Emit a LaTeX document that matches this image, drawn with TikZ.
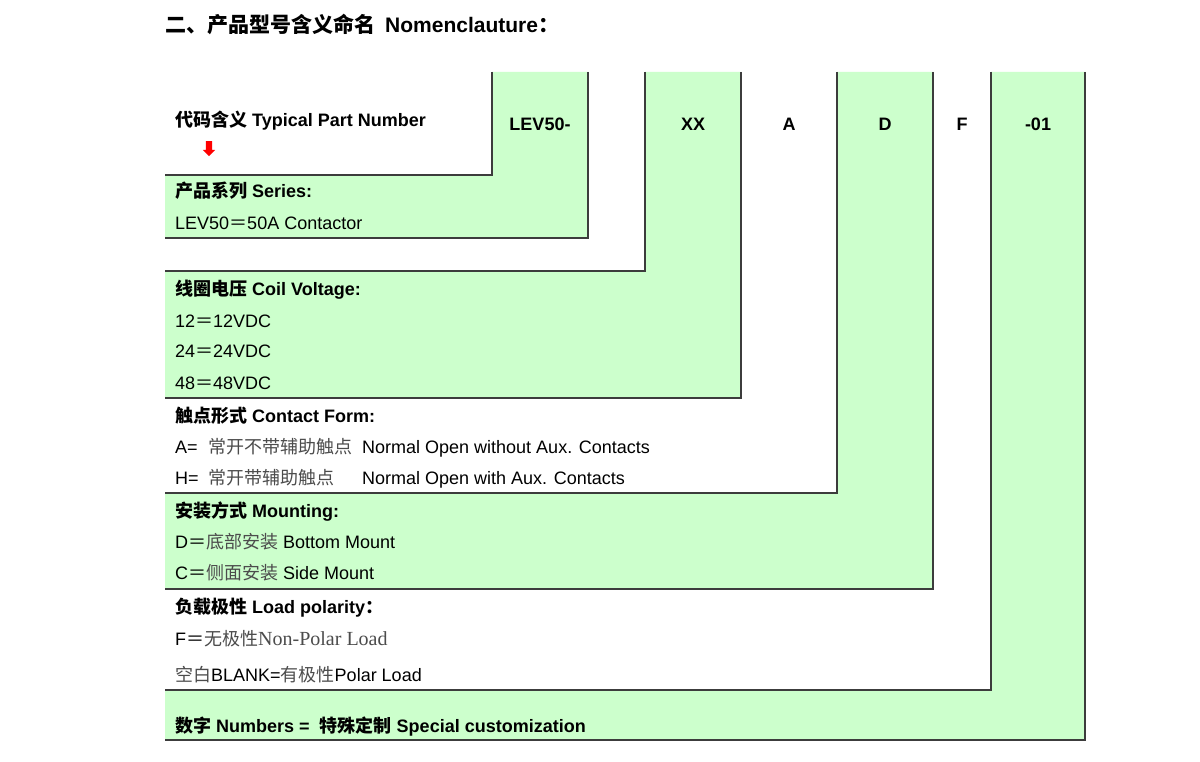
\documentclass[tikz,border=0pt]{standalone}
\usepackage{fontspec}
\setmainfont{Liberation Sans}
\newfontfamily\cjk{Noto Sans CJK SC}
\newfontfamily\serifload{Liberation Serif}
\usetikzlibrary{shapes.arrows}
\definecolor{partgreen}{RGB}{204,255,204}
\definecolor{rulegray}{RGB}{60,60,60}
\newcommand{\basesize}{\fontsize{18}{22}\selectfont}
\newcommand{\zh}[1]{{\cjk #1}}
\newcommand{\zhgray}[1]{{\cjk\color{black!70}#1}}
\tikzstyle{heading} = [anchor=base west, inner sep=0pt, font=\basesize\bfseries]
\tikzstyle{entry} = [anchor=base west, inner sep=0pt, font=\basesize]
\tikzstyle{code} = [anchor=base, inner sep=0pt, font=\basesize\bfseries]
\tikzstyle{band} = [fill=partgreen]
\tikzstyle{rule} = [draw=rulegray, line width=1.5pt]
\tikzstyle{marker} = [single arrow, fill=red, rotate=-90, minimum height=15pt, inner sep=3pt, single arrow head extend=3pt]

\begin{document}
\begin{tikzpicture}[x=1pt, y=-1pt]
\useasboundingbox[fill=white] (0,0) rectangle (1200,762);

% green bands
\foreach \a/\b/\t/\r in {492/588/175/238, 645/741/271/398, 837/933/493/589, 991/1085/690/740}
  \fill[band] (\a,72) -| (\b,\r) -| (165,\t) -- (\a,\t) -- cycle;

% frame lines
\foreach \c/\r in {492/175, 588/238, 645/271, 741/398, 837/493, 933/589, 991/690, 1085/740}
  \draw[rule] (\c,72) |- (165,\r);

\node (title) [anchor=base west, inner sep=0pt, font=\fontsize{21}{25}\selectfont\bfseries] at (165,33) {\zh{二、产品型号含义命名}\hspace{10pt}Nomenclauture\zh{：}};

% part number
\node (typical) [heading] at (175,127) {\zh{代码含义} Typical Part Number};
\node (pointer) [marker] at (209,147) {};
\node (codeseries) [code] at (540,131) {LEV50-};
\node (codevolt) [code] at (693,131) {XX};
\node (codecontact) [code] at (789,131) {A};
\node (codemount) [code] at (885,131) {D};
\node (codeload) [code] at (962,131) {F};
\node (codenum) [code] at (1038,131) {-01};

% rows
\node (serieshead) [heading] at (175,198) {\zh{产品系列} Series:};
\node (series50) [entry] at (175,230) {LEV50\zh{＝}50A Contactor};

\node (coilhead) [heading] at (175,295) {\zh{线圈电压} Coil Voltage:};
\node (coil12) [entry] at (175,327) {12\zh{＝}12VDC};
\node (coil24) [entry] at (175,357) {24\zh{＝}24VDC};
\node (coil48) [entry] at (175,389) {48\zh{＝}48VDC};

\node (contacthead) [heading] at (175,422) {\zh{触点形式} Contact Form:};
\node (contactA) [entry] at (175,453) {\makebox[33pt][l]{A=}\makebox[154pt][l]{\zhgray{常开不带辅助触点}}Normal Open without Aux. Contacts};
\node (contactH) [entry] at (175,484) {\makebox[33pt][l]{H=}\makebox[154pt][l]{\zhgray{常开带辅助触点}}Normal Open with Aux. Contacts};

\node (mounthead) [heading] at (175,517) {\zh{安装方式} Mounting:};
\node (mountD) [entry] at (175,548) {D\zh{＝}\zhgray{底部安装} Bottom Mount};
\node (mountC) [entry] at (175,579) {C\zh{＝}\zhgray{侧面安装} Side Mount};

\node (loadhead) [heading] at (175,613) {\zh{负载极性} Load polarity\zh{：}};
\node (loadF) [entry] at (175,645) {F\zh{＝}\zhgray{无极性}{\serifload\color{black!70}\fontsize{20}{24}\selectfont Non-Polar Load}};
\node (loadblank) [entry] at (175,681) {\zhgray{空白}BLANK=\zhgray{有极性}Polar Load};

\node (numbers) [heading] at (175,732) {\zh{数字} Numbers = \ \zh{特殊定制} Special customization};

\end{tikzpicture}
\end{document}
